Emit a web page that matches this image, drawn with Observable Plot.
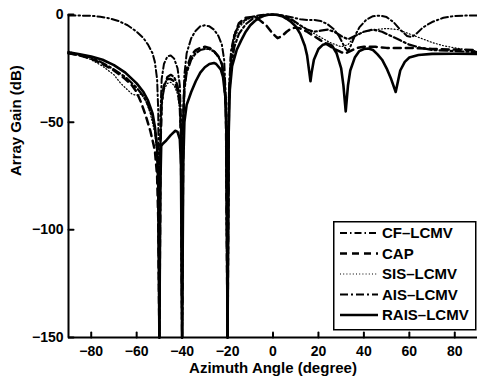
<!DOCTYPE html>
<html><head><meta charset="utf-8">
<script src="https://cdn.jsdelivr.net/npm/d3@7"></script>
<script src="https://cdn.jsdelivr.net/npm/@observablehq/plot@0.6"></script>
<style>
body{margin:0;background:#fff;}
#wrap{position:relative;width:477px;height:379px;overflow:hidden;}
#wrap svg{display:block;}
</style></head><body><div id="wrap"></div>
<script>
const seriesNames = ["CF–LCMV","CAP","SIS–LCMV","AIS–LCMV","RAIS–LCMV"];
const xTicks = [-80,-60,-40,-20,0,20,40,60,80];
const yTicks = [0,-50,-100,-150];

const cfAngle = [-90,-85,-80,-76,-72,-68,-64,-60,-57,-55,-53,-52,-51,-50.5,-50,-49.5,-49,-48,-46.5,-45,-43.5,-42,-41,-40.5,-40,-39.5,-39,-38,-36,-34,-32,-30,-28,-26,-24,-22.5,-21.5,-20.7,-20,-19.4,-18.5,-17,-15,-12,-9,-6,-3,0,3,6,9,12,15,18,21,24,27,29,31,32,33,34,36,38,41,44,47,50,53,56,59,61,63,66,70,75,80,85,90];
const cfGain  = [-0.5,-0.5,-0.6,-1,-1.8,-3,-5,-8,-11,-14,-18,-22,-30,-45,-150,-45,-30,-23,-19.5,-19,-20.5,-25,-33,-48,-150,-45,-28,-18,-11,-7.5,-5.5,-5,-5.5,-7,-10,-14,-21,-40,-150,-35,-17,-9,-5,-2.2,-1,-0.3,0,0,-0.2,-0.8,-1.5,-2.2,-2.5,-2.5,-3,-4.5,-7,-10,-14,-16,-17,-15,-10,-6,-2.5,-0.8,-0.5,-1.2,-3.5,-7,-10,-10.5,-9,-6,-3.5,-1.5,-0.7,-0.5,-0.5];

const capAngle = [-90,-85,-80,-75,-70,-65,-62,-60,-58,-56,-54,-52,-51,-50.5,-50,-49.5,-49,-48,-46.5,-45,-43.5,-42,-41,-40.5,-40,-39.5,-39,-38,-36,-34,-32,-30,-28,-26,-24,-22.5,-21.5,-20.7,-20,-19.4,-18.5,-17,-15,-12,-9,-6,-3,0,2,4,6,8,10,12,15,18,21,24,27,30,32,34,37,40,45,50,55,60,70,80,90];
const capGain  = [-18,-19,-20.5,-23,-26,-30,-33,-36,-41,-47,-54,-63,-75,-95,-150,-60,-40,-33,-30,-30,-31,-35,-42,-58,-150,-50,-33,-25,-19,-16.5,-15.5,-15,-15.5,-17,-19.5,-23,-29,-45,-150,-40,-20,-10,-4,-1.5,-1.2,-2.5,-5,-9,-11,-10,-8,-6.5,-6,-6.5,-8,-10,-12,-14,-16,-17.5,-18,-17,-15.5,-15,-15,-15.5,-15.5,-15.5,-16,-16.3,-16.5];

const sisAngle = [-90,-85,-80,-75,-70,-67,-64,-62,-60,-58,-56,-54,-52,-51,-50.5,-50,-49.5,-49,-48,-46.5,-45,-43.5,-42,-41,-40.5,-40,-39.5,-39,-38,-36,-34,-32,-30,-28,-26,-24,-22.5,-21.5,-20.7,-20,-19.4,-18.5,-17,-15,-12,-9,-6,-3,0,3,6,10,15,20,25,30,33,36,40,45,50,55,60,65,70,75,80,85,90];
const sisGain  = [-17,-19,-21,-24,-28,-32,-35,-37,-37.5,-37,-40,-46,-55,-65,-85,-150,-60,-42,-35,-32,-31.5,-33,-37,-45,-60,-150,-50,-34,-26,-20,-17.5,-16.5,-16,-16.3,-17.5,-20,-23,-29,-45,-150,-40,-22,-12,-6,-2.8,-1.2,-0.4,-0.1,0,-0.3,-1.2,-4,-7,-10,-13,-15,-14,-10,-8,-7,-6.5,-7,-9,-11,-13,-14.5,-15.5,-16.3,-17];

const aisAngle = [-90,-85,-80,-75,-70,-65,-60,-57,-55,-53,-52,-51,-50.5,-50,-49.5,-49,-48,-46.5,-45,-43.5,-42,-41,-40.5,-40,-39.5,-39,-38,-36,-34,-32,-30,-28,-26,-24,-22.5,-21.5,-20.7,-20,-19.4,-18.5,-17,-15,-12,-9,-6,-3,0,3,6,9,12,15,18,21,24,27,30,33,36,40,44,48,52,56,60,65,70,80,90];
const aisGain  = [-18,-19,-20,-22.5,-25.5,-29,-34,-38,-42,-48,-53,-62,-80,-150,-60,-42,-34,-29,-28,-29,-33,-40,-55,-150,-50,-35,-27,-21,-18,-16.5,-16,-16,-17,-19.5,-23,-29,-45,-150,-40,-25,-15,-9,-4.5,-2,-0.8,-0.2,0,-0.3,-1.2,-2.8,-5,-7,-8,-7.5,-7,-8,-10,-11.5,-10,-8,-7,-8,-10,-12,-14,-15.5,-16.5,-17,-17.5];

const raisAngle = [-90,-85,-80,-75,-70,-65,-60,-57,-55,-53,-52,-51,-50.5,-50,-49.6,-49.2,-48.5,-47,-45,-43,-42,-41,-40.5,-40,-39.5,-39,-38,-36,-34,-32,-30,-28,-26,-25,-23,-22,-21,-20.5,-20,-19.5,-19,-18,-16,-14,-12,-10,-8,-6,-4,-2,0,2,4,6,8,10,12,14,15,16,16.5,17,18,20,22,24,26,28,30,31,32,33,34,36,38,40,42,44,46,48,50,52,54,55,56,58,60,64,70,80,90];
const raisGain  = [-17.5,-18.5,-19.5,-21,-23.5,-27,-32,-36,-40,-46,-52,-62,-80,-150,-80,-61,-60,-58.5,-56,-54,-54.5,-58,-70,-150,-70,-50,-42,-36,-31,-27,-24.5,-23,-22.5,-23,-25.5,-29,-38,-55,-150,-55,-35,-24,-16.5,-12,-8,-5,-3,-1.5,-0.6,-0.1,0,-0.2,-0.8,-2,-3.5,-5.5,-9,-14.5,-19,-27,-31,-27,-21,-16,-14,-13.5,-14.5,-18,-25,-33,-45,-33,-26,-20,-17,-16,-15.8,-16.5,-18.5,-21,-25,-30,-36,-31,-26,-22,-20,-18.8,-18.3,-18.2,-18.3];

const angles = [cfAngle, capAngle, sisAngle, aisAngle, raisAngle];
const gains  = [cfGain, capGain, sisGain, aisGain, raisGain];

const styles = {
  "CF–LCMV":   {dash: "7,3,1.5,3", w: 2},
  "CAP":       {dash: "7,5", w: 2.5},
  "SIS–LCMV":  {dash: "1,2.2", w: 1.2},
  "AIS–LCMV":  {dash: "8,3,2,3", w: 2.2},
  "RAIS–LCMV": {dash: null, w: 2.6}
};

const rows = seriesNames.flatMap((name, k) => angles[k].map((a, i) => ({series: name, angle: a, gain: gains[k][i]})));

const tickShape = {draw(ctx, l) { ctx.moveTo(0, 0); ctx.lineTo(0, -l); }};
const FONT = "'Liberation Sans', Arial, Helvetica, sans-serif";

const lineMarks = seriesNames.map(name => Plot.line(rows.filter(r => r.series === name), {
  x: "angle", y: "gain", stroke: "black",
  strokeWidth: styles[name].w,
  strokeDasharray: styles[name].dash,
  strokeLinejoin: "round"
}));

const chart = Plot.plot({
  width: 477, height: 379,
  marginLeft: 68, marginRight: 0, marginTop: 14, marginBottom: 42,
  style: {fontFamily: FONT, background: "white"},
  x: {domain: [-90, 90]},
  y: {domain: [-150, 0]},
  marks: [
    ...lineMarks,
    Plot.ruleX([-90], {stroke: "black", strokeWidth: 2}),
    Plot.ruleY([-150], {stroke: "black", strokeWidth: 2}),
    Plot.vector(xTicks, {x: d => d, y: -150, length: 5, anchor: "start", shape: tickShape, stroke: "black", strokeWidth: 2}),
    Plot.vector(yTicks, {x: -90, y: d => d, length: 5, rotate: 90, anchor: "start", shape: tickShape, stroke: "black", strokeWidth: 2}),
    Plot.axisX(xTicks, {tickSize: 0, tickPadding: 9, fontWeight: "bold", fontSize: 14, label: null}),
    Plot.axisY(yTicks, {tickSize: 0, tickPadding: 5, fontWeight: "bold", fontSize: 14, label: null}),
    Plot.text(["Azimuth Angle (degree)"], {frameAnchor: "bottom", dy: 31, fontWeight: "bold", fontSize: 15, lineAnchor: "middle"}),
    Plot.text(["Array Gain (dB)"], {frameAnchor: "left", dx: -52, rotate: -90, fontWeight: "bold", fontSize: 15, lineAnchor: "middle"})
  ]
});
const wrap = document.getElementById("wrap");
wrap.appendChild(chart);

// legend box
const lg = d3.select(wrap).append("svg")
  .attr("width", 144).attr("height", 110)
  .style("position", "absolute").style("left", "333px").style("top", "221px");
lg.append("rect").attr("x", 0.75).attr("y", 0.75).attr("width", 142).attr("height", 108)
  .attr("fill", "white").attr("stroke", "black").attr("stroke-width", 1.5);
seriesNames.forEach((name, i) => {
  const y = 12 + i * 20.5;
  lg.append("line").attr("x1", 7).attr("x2", 45).attr("y1", y).attr("y2", y)
    .attr("stroke", "black").attr("stroke-width", styles[name].w)
    .attr("stroke-dasharray", styles[name].dash);
  lg.append("text").attr("x", 49).attr("y", y).attr("dy", "0.36em")
    .attr("font-family", FONT)
    .attr("font-weight", "bold").attr("font-size", 15).text(name);
});
</script>
</body></html>
